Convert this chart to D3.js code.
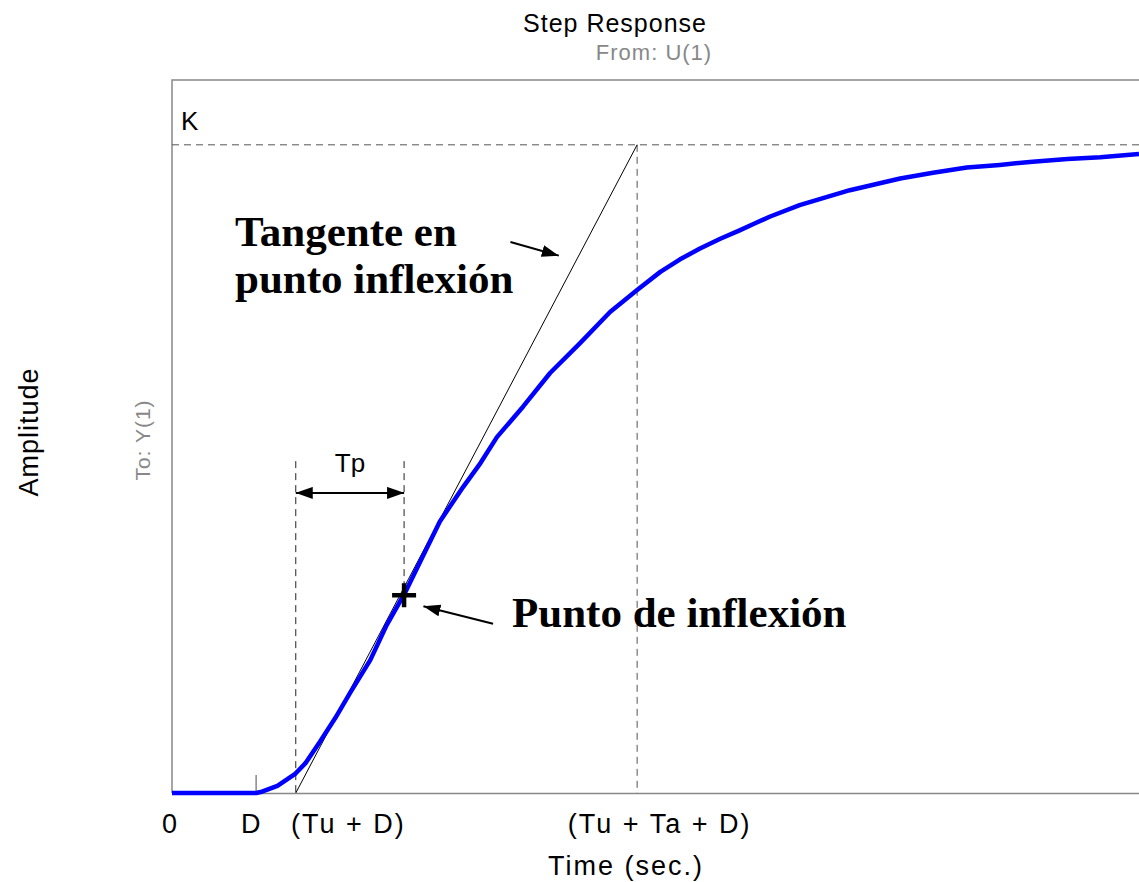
<!DOCTYPE html>
<html>
<head>
<meta charset="utf-8">
<script src="https://cdn.jsdelivr.net/npm/d3@7"></script>
<style>
  body { margin: 0; background: #fff; }
  text { font-family: "Liberation Sans", Arial, sans-serif; }
</style>
</head>
<body>
<div id="chart"></div>
<script>
// step response samples (time in sec, amplitude normalised so K = 1)
const time = [0, 0.87, 0.93, 1.09, 1.27, 1.38, 1.53, 1.69, 1.84, 2.05, 2.22, 2.41, 2.57, 2.77,
    3.01, 3.19, 3.36, 3.63, 3.91, 4.22, 4.53, 4.81, 5.05, 5.25, 5.46, 5.67, 5.87, 6.03, 6.18, 6.49,
    7.01, 7.53, 7.87, 8.22, 8.56, 8.90, 9.26, 9.60, 10.0];
const amplitude = [0, 0, 0.002, 0.011, 0.029, 0.046, 0.079, 0.116, 0.154, 0.205, 0.259, 0.309, 0.358, 0.419,
    0.472, 0.509, 0.549, 0.596, 0.648, 0.694, 0.742, 0.776, 0.804, 0.823, 0.840, 0.855, 0.868, 0.879, 0.889, 0.907,
    0.930, 0.948, 0.957, 0.965, 0.969, 0.974, 0.978, 0.981, 0.986];

const K = 1;
const D = 0.87;
const tuD = 1.28;
const tuTaD = 4.81;
const inflection = [2.40, 0.305];
const tpLevel = 0.463;
const tpGuideTop = 0.512;

const tickValues = [0, D, tuD, tuTaD];
const tickLabels = ['0', 'D', '(Tu + D)', '(Tu + Ta + D)'];

// annotation arrows [fromT, fromA, toT, toA]
const tangentArrow = [3.50, 0.850, 4.00, 0.829];
const inflectionArrow = [3.32, 0.261, 2.60, 0.288];

const width = 1139, height = 882;
const margin = { top: 80, right: 0, bottom: 89, left: 172 };
const innerW = width - margin.left - margin.right;
const innerH = height - margin.top - margin.bottom;

const svg = d3.select('#chart')
    .append('svg')
    .attr('width', width)
    .attr('height', height)
    .style('display', 'block');

const defs = svg.append('defs');
defs.append('marker')
    .attr('id', 'arrow')
    .attr('viewBox', '0 -6 17 12')
    .attr('refX', 17)
    .attr('refY', 0)
    .attr('markerUnits', 'userSpaceOnUse')
    .attr('markerWidth', 17)
    .attr('markerHeight', 12)
    .attr('orient', 'auto-start-reverse')
    .append('path')
    .attr('d', 'M0,-6L17,0L0,6Z')
    .attr('fill', '#000');

const x = d3.scaleLinear().domain([0, 10]).range([0, innerW]);
const y = d3.scaleLinear().domain([0, 1.1]).range([innerH, 0]);

const g = svg.append('g').attr('transform', `translate(${margin.left},${margin.top})`);

// frame: top and left edges
g.append('path')
    .attr('d', `M${innerW},0H0V${innerH}`)
    .attr('fill', 'none')
    .attr('stroke', '#888')
    .attr('stroke-width', 1.5);

// bottom axis with custom labels
const xAxis = g.append('g')
    .attr('transform', `translate(0,${innerH})`)
    .call(d3.axisBottom(x).tickValues(tickValues).tickFormat((d, i) => tickLabels[i]).tickSize(0).tickPadding(8));
xAxis.select('.domain').attr('stroke', '#888').attr('stroke-width', 1.5);
const labelDx = [-2, -5, 52, 22];
xAxis.selectAll('.tick text')
    .attr('dx', (d, i) => labelDx[i])
    .attr('dy', '1.2em')
    .style('font-size', '27px')
    .style('letter-spacing', '2px')
    .style('font-family', '"Liberation Sans", Arial, sans-serif')
    .attr('fill', '#000');

// tick mark at D
g.append('line')
    .attr('x1', x(D)).attr('x2', x(D))
    .attr('y1', innerH - 18).attr('y2', innerH)
    .attr('stroke', '#888')
    .attr('stroke-width', 1.5);

const dash = '7,5';

// K reference line
g.append('line')
    .attr('x1', 0).attr('x2', innerW)
    .attr('y1', y(K)).attr('y2', y(K))
    .attr('stroke', '#555')
    .attr('stroke-dasharray', dash);

// vertical guide at Tu + Ta + D
g.append('line')
    .attr('x1', x(tuTaD)).attr('x2', x(tuTaD))
    .attr('y1', y(K)).attr('y2', innerH)
    .attr('stroke', '#555')
    .attr('stroke-dasharray', dash);

// Tp guides
g.append('line')
    .attr('x1', x(tuD)).attr('x2', x(tuD))
    .attr('y1', y(tpGuideTop)).attr('y2', innerH)
    .attr('stroke', '#222')
    .attr('stroke-dasharray', dash);
g.append('line')
    .attr('x1', x(inflection[0])).attr('x2', x(inflection[0]))
    .attr('y1', y(tpGuideTop)).attr('y2', y(inflection[1]))
    .attr('stroke', '#222')
    .attr('stroke-dasharray', dash);

// Tp double arrow
g.append('line')
    .attr('x1', x(tuD)).attr('x2', x(inflection[0]))
    .attr('y1', y(tpLevel)).attr('y2', y(tpLevel))
    .attr('stroke', '#000')
    .attr('stroke-width', 2)
    .attr('marker-start', 'url(#arrow)')
    .attr('marker-end', 'url(#arrow)');
g.append('text')
    .attr('x', (x(tuD) + x(inflection[0])) / 2)
    .attr('y', y(tpLevel) - 21)
    .attr('text-anchor', 'middle')
    .style('font-size', '26px')
    .text('Tp');

// tangent at inflection point
g.append('line')
    .attr('x1', x(tuD)).attr('x2', x(tuTaD))
    .attr('y1', y(0)).attr('y2', y(K))
    .attr('stroke', '#000')
    .attr('stroke-width', 1);

// response curve
const line = d3.line()
    .x(d => x(d[0]))
    .y(d => y(d[1]));
g.append('path')
    .datum(d3.zip(time, amplitude))
    .attr('d', line)
    .attr('fill', 'none')
    .attr('stroke', '#0000ff')
    .attr('stroke-width', 4.5)
    .attr('stroke-linejoin', 'round');

// inflection marker
g.append('path')
    .attr('transform', `translate(${x(inflection[0])},${y(inflection[1])})`)
    .attr('d', 'M-12,0H12M0,-12V12')
    .attr('stroke', '#000')
    .attr('stroke-width', 4.5);

// annotation arrows
[tangentArrow, inflectionArrow].forEach(a => {
    g.append('line')
        .attr('x1', x(a[0])).attr('y1', y(a[1]))
        .attr('x2', x(a[2])).attr('y2', y(a[3]))
        .attr('stroke', '#000')
        .attr('stroke-width', 2)
        .attr('marker-end', 'url(#arrow)');
});

// bold annotations
const serif = '"Liberation Serif", "Times New Roman", serif';
g.append('text')
    .attr('x', 63).attr('y', 166)
    .style('font-family', serif).style('font-weight', 'bold').style('font-size', '43px')
    .text('Tangente en');
g.append('text')
    .attr('x', 63).attr('y', 213)
    .style('font-family', serif).style('font-weight', 'bold').style('font-size', '43px')
    .text('punto inflexión');
g.append('text')
    .attr('x', 340).attr('y', 547)
    .style('font-family', serif).style('font-weight', 'bold').style('font-size', '43px')
    .text('Punto de inflexión');

// K label
g.append('text')
    .attr('x', 9).attr('y', 50)
    .style('font-size', '26px')
    .text('K');

// titles
svg.append('text')
    .attr('x', 615).attr('y', 32)
    .attr('text-anchor', 'middle')
    .style('font-size', '25px')
    .style('letter-spacing', '1px')
    .text('Step Response');
svg.append('text')
    .attr('x', 654).attr('y', 60)
    .attr('text-anchor', 'middle')
    .style('font-size', '22px')
    .style('letter-spacing', '1px')
    .attr('fill', '#888')
    .text('From: U(1)');
svg.append('text')
    .attr('x', 626).attr('y', 875)
    .attr('text-anchor', 'middle')
    .style('font-size', '27px')
    .style('letter-spacing', '2px')
    .text('Time (sec.)');
svg.append('text')
    .attr('transform', 'translate(38,432) rotate(-90)')
    .attr('text-anchor', 'middle')
    .style('font-size', '27px')
    .style('letter-spacing', '1px')
    .text('Amplitude');
svg.append('text')
    .attr('transform', 'translate(150,440) rotate(-90)')
    .attr('text-anchor', 'middle')
    .style('font-size', '21px')
    .style('letter-spacing', '1px')
    .attr('fill', '#888')
    .text('To: Y(1)');
</script>
</body>
</html>
